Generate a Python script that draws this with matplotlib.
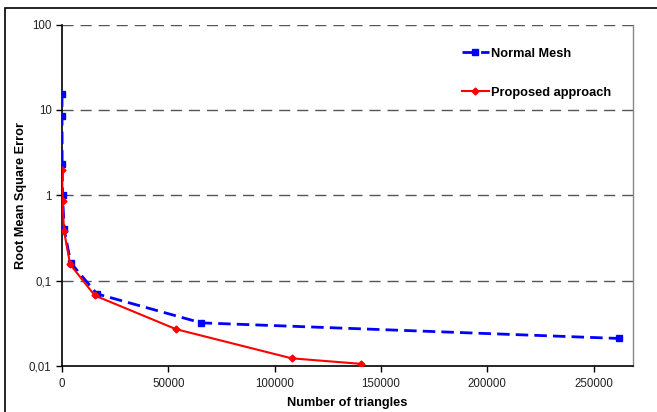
import matplotlib
matplotlib.use("Agg")
import matplotlib.pyplot as plt
from matplotlib.patches import Rectangle
from matplotlib.ticker import FixedLocator, FuncFormatter, NullLocator

plt.rcParams['font.family'] = ['Liberation Sans', 'DejaVu Sans']

# data
normal_x = [4, 16, 64, 256, 1024, 4096, 16384, 65536, 262144]
normal_rmse = [15.2, 8.4, 2.33, 1.0, 0.40, 0.162, 0.070, 0.032, 0.021]
proposed_x = [60, 240, 960, 3840, 15400, 53600, 108000, 140500]
proposed_rmse = [2.0, 0.86, 0.38, 0.155, 0.067, 0.027, 0.0123, 0.0106]

y_ticks = [0.01, 0.1, 1, 10, 100]
x_ticks = [0, 50000, 100000, 150000, 200000, 250000]

W, H = 657, 412
fig = plt.figure(figsize=(W / 100, H / 100), dpi=100)
ax = fig.add_axes([62 / W, 1 - 366 / H, (633 - 62) / W, (366 - 24.5) / H])

ax.plot(normal_x, normal_rmse, color='#0000ff', lw=2, ls=(0, (4.5, 2.2)),
        marker='s', ms=5, label='Normal Mesh', zorder=3)
ax.plot(proposed_x, proposed_rmse, color='#ff0000', lw=1.5, ls='-',
        marker='D', ms=3.5, label='Proposed approach', zorder=4)

ax.set_yscale('log')
ax.set_ylim(0.01, 100)
ax.set_xlim(0, 268500)
ax.yaxis.set_major_locator(FixedLocator(y_ticks))
ax.yaxis.set_minor_locator(NullLocator())
ax.yaxis.set_major_formatter(FuncFormatter(lambda v, p: f'{v:g}'.replace('.', ',')))
ax.xaxis.set_major_locator(FixedLocator(x_ticks))
ax.xaxis.set_major_formatter(FuncFormatter(lambda v, p: f'{int(v)}'))

for v in y_ticks[1:]:
    ax.axhline(v, color='#555555', lw=1, ls=(0, (8, 5)), zorder=1)

ax.spines['top'].set_visible(False)
ax.spines['right'].set_color('#888888')
ax.spines['right'].set_linewidth(1)
for side in ('left', 'bottom'):
    ax.spines[side].set_color('black')
    ax.spines[side].set_linewidth(1.2)

ax.tick_params(axis='both', labelsize=8.3, labelcolor='#222222', length=4, width=1)
ax.tick_params(axis='x', pad=4.5)
ax.set_xlabel('Number of triangles', fontsize=9.2, fontweight='bold', labelpad=5)
ax.set_ylabel('Root Mean Square Error', fontsize=9.2, fontweight='bold', labelpad=1.5)

ax.legend(loc='upper left', bbox_to_anchor=(0.68, 0.965), frameon=False,
          prop={'size': 9.2, 'weight': 'bold'}, handlelength=2.1,
          handletextpad=0.2, labelspacing=2.1)

# outer chart frame
fig.patches.append(Rectangle((5 / W, -0.05), 1.1, 1 - 8 / H + 0.05,
                             transform=fig.transFigure, fill=False,
                             edgecolor='black', lw=1.2))

fig.savefig('out.png', dpi=100)
